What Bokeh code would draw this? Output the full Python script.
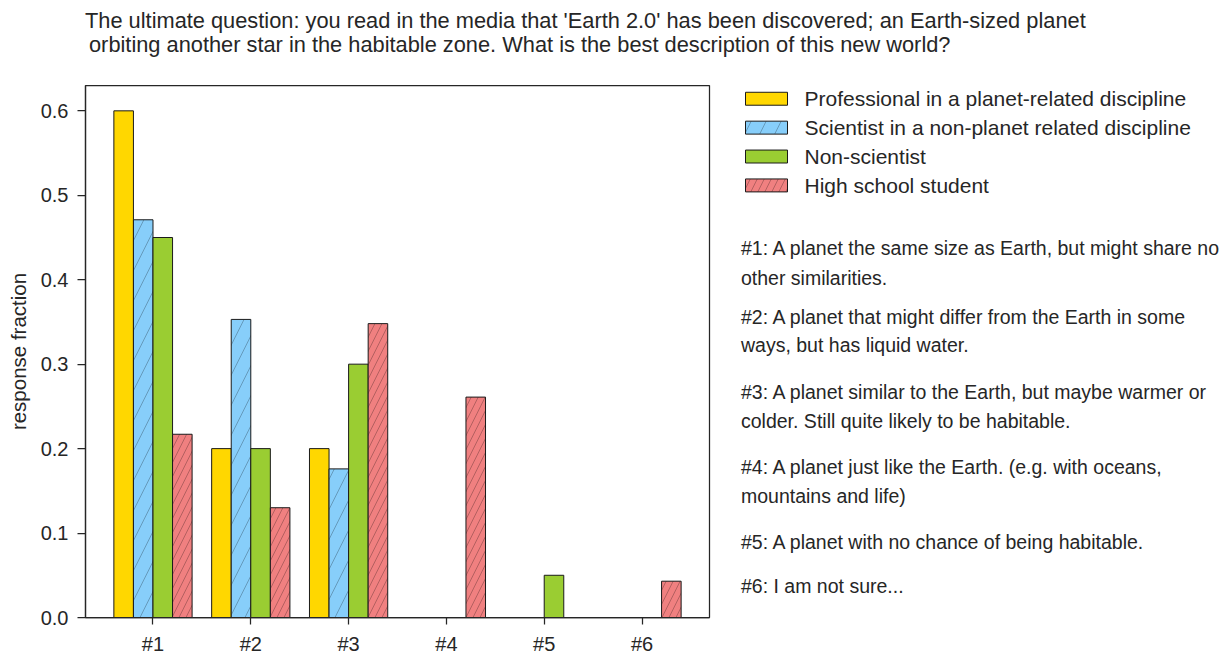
import numpy as np
from bokeh.plotting import figure
from bokeh.layouts import column, row
from bokeh.models import Range1d, FixedTicker, NumeralTickFormatter
from bokeh.core.properties import value
from bokeh.embed import file_html
from bokeh.resources import INLINE

# ---------------- data ----------------
categories = ["#1", "#2", "#3", "#4", "#5", "#6"]
groups = [
    "Professional in a planet-related discipline",
    "Scientist in a non-planet related discipline",
    "Non-scientist",
    "High school student",
]
professional = [0.600, 0.200, 0.200, 0.000, 0.000, 0.000]
scientist = [0.471, 0.353, 0.176, 0.000, 0.000, 0.000]
non_scientist = [0.450, 0.200, 0.300, 0.000, 0.050, 0.000]
high_school = [0.217, 0.130, 0.348, 0.261, 0.000, 0.043]
y_ticks = [0.0, 0.1, 0.2, 0.3, 0.4, 0.5, 0.6]

title_lines = [
    "The ultimate question: you read in the media that 'Earth 2.0' has been discovered; an Earth-sized planet",
    " orbiting another star in the habitable zone. What is the best description of this new world?",
]
descriptions = [
    ["#1: A planet the same size as Earth, but might share no", "other similarities."],
    ["#2: A planet that might differ from the Earth in some", "ways, but has liquid water."],
    ["#3: A planet similar to the Earth, but maybe warmer or", "colder. Still quite likely to be habitable."],
    ["#4: A planet just like the Earth. (e.g. with oceans,", "mountains and life)"],
    ["#5: A planet with no chance of being habitable."],
    ["#6: I am not sure..."],
]

# ---------------- style / layout (page pixel coordinates) ----------------
FONT = value("Liberation Sans")
TXT = "#262626"
colors = ["#FFD700", "#87CEFA", "#9ACD32", "#F08080"]
hatch = [None, "/", None, "/"]
hatch_scale = [12, 30, 12, 14]
series = [professional, scientist, non_scientist, high_school]
bar_w = 0.2
offsets = [-0.3, -0.1, 0.1, 0.3]

TOTAL_W = 1230
TOP_H = 70
FL, FW, FR = 85, 624, 14          # main: left border, frame width, right border
FT, FH, FB = 15, 532, 38          # main: top border, frame height, bottom border
MAIN_W = FL + FW + FR
MAIN_H = FT + FH + FB
SIDE_W = TOTAL_W - MAIN_W
frame_top_page = TOP_H + FT
frame_bot_page = frame_top_page + FH
side_left_page = MAIN_W


def blank(fig):
    fig.outline_line_color = None
    fig.grid.visible = False


# ---------------- title figure ----------------
top = figure(width=TOTAL_W, height=TOP_H, x_range=Range1d(0, TOTAL_W),
             y_range=Range1d(TOP_H, 0),
             toolbar_location=None, output_backend="svg", min_border=0,
             x_axis_location=None, y_axis_location=None)
blank(top)
top.text(x=[84.5, 88.5], y=[20.0, 44.0], text=title_lines, text_font=FONT,
         text_font_size="21.8px", text_color=TXT, text_baseline="alphabetic", text_align="left")

# ---------------- main chart ----------------
p = figure(frame_width=FW, frame_height=FH,
           x_range=Range1d(-0.69, 5.69), y_range=Range1d(0, 0.63),
           min_border_left=FL, min_border_right=FR, min_border_top=FT, min_border_bottom=FB,
           toolbar_location=None, output_backend="svg")
p.grid.visible = False
p.outline_line_color = TXT
p.outline_line_width = 1.25
p.outline_line_alpha = 1.0

xpos = np.arange(len(categories))
for vals, col, h, hs, off in zip(series, colors, hatch, hatch_scale, offsets):
    kw = {}
    if h:
        kw = dict(hatch_pattern=h, hatch_scale=hs, hatch_color="#000000", hatch_alpha=0.25, hatch_weight=1)
    p.vbar(x=xpos + off, top=vals, bottom=0, width=bar_w, fill_color=col,
           line_color="#1a1a1a", line_width=1, **kw)

p.xaxis.ticker = FixedTicker(ticks=list(xpos))
p.xaxis.major_label_overrides = {int(i): c for i, c in zip(xpos, categories)}
p.yaxis.ticker = FixedTicker(ticks=y_ticks)
p.yaxis.formatter = NumeralTickFormatter(format="0.0")
p.yaxis.axis_label = "response fraction"
for ax in (p.xaxis[0], p.yaxis[0]):
    ax.axis_line_color = TXT
    ax.axis_line_width = 1.25
    ax.major_tick_line_color = TXT
    ax.major_tick_line_width = 1.25
    ax.major_tick_in = 0
    ax.minor_tick_line_color = None
    ax.major_label_text_font = "Liberation Sans"
    ax.major_label_text_font_size = "20px"
    ax.major_label_text_color = TXT
    ax.axis_label_text_font = "Liberation Sans"
    ax.axis_label_text_font_size = "20.5px"
    ax.axis_label_text_font_style = "normal"
    ax.axis_label_text_color = TXT
p.yaxis.major_tick_out = 8
p.xaxis.major_tick_out = 7
p.yaxis.major_label_standoff = 9
p.yaxis.axis_label_standoff = 8
p.xaxis.major_label_standoff = 8

# ---------------- side panel: legend + descriptions ----------------
side = figure(width=SIDE_W, height=MAIN_H,
              x_range=Range1d(side_left_page, side_left_page + SIDE_W),
              y_range=Range1d(frame_bot_page, frame_top_page),
              toolbar_location=None, output_backend="svg",
              min_border_left=0, min_border_right=0, min_border_top=FT, min_border_bottom=FB,
              x_axis_location=None, y_axis_location=None)
blank(side)

leg_y = [98.3, 127.3, 156.3, 185.3]
for yy, col, h, hs in zip(leg_y, colors, hatch, hatch_scale):
    kw = {}
    if h:
        kw = dict(hatch_pattern=h, hatch_scale=hs, hatch_color="#000000", hatch_alpha=0.25, hatch_weight=1)
    side.rect(x=[766], y=[yy], width=42, height=13, fill_color=col,
              line_color="#1a1a1a", line_width=1, **kw)
side.text(x=[804] * len(groups), y=leg_y, text=groups, text_font=FONT, text_font_size="21px",
          text_color=TXT, text_baseline="middle", text_align="left")

line_centers = [[248, 278], [317, 345], [393, 422], [468, 497], [543], [587]]
dx, dy, dt = [], [], []
for lines, ys in zip(descriptions, line_centers):
    for ln, yy in zip(lines, ys):
        dx.append(740.5)
        dy.append(yy)
        dt.append(ln)
side.text(x=dx, y=dy, text=dt, text_font=FONT, text_font_size="19.5px",
          text_color=TXT, text_baseline="middle", text_align="left")

layout = column(top, row(p, side))
open("out.html", "w").write(file_html(layout, INLINE))
